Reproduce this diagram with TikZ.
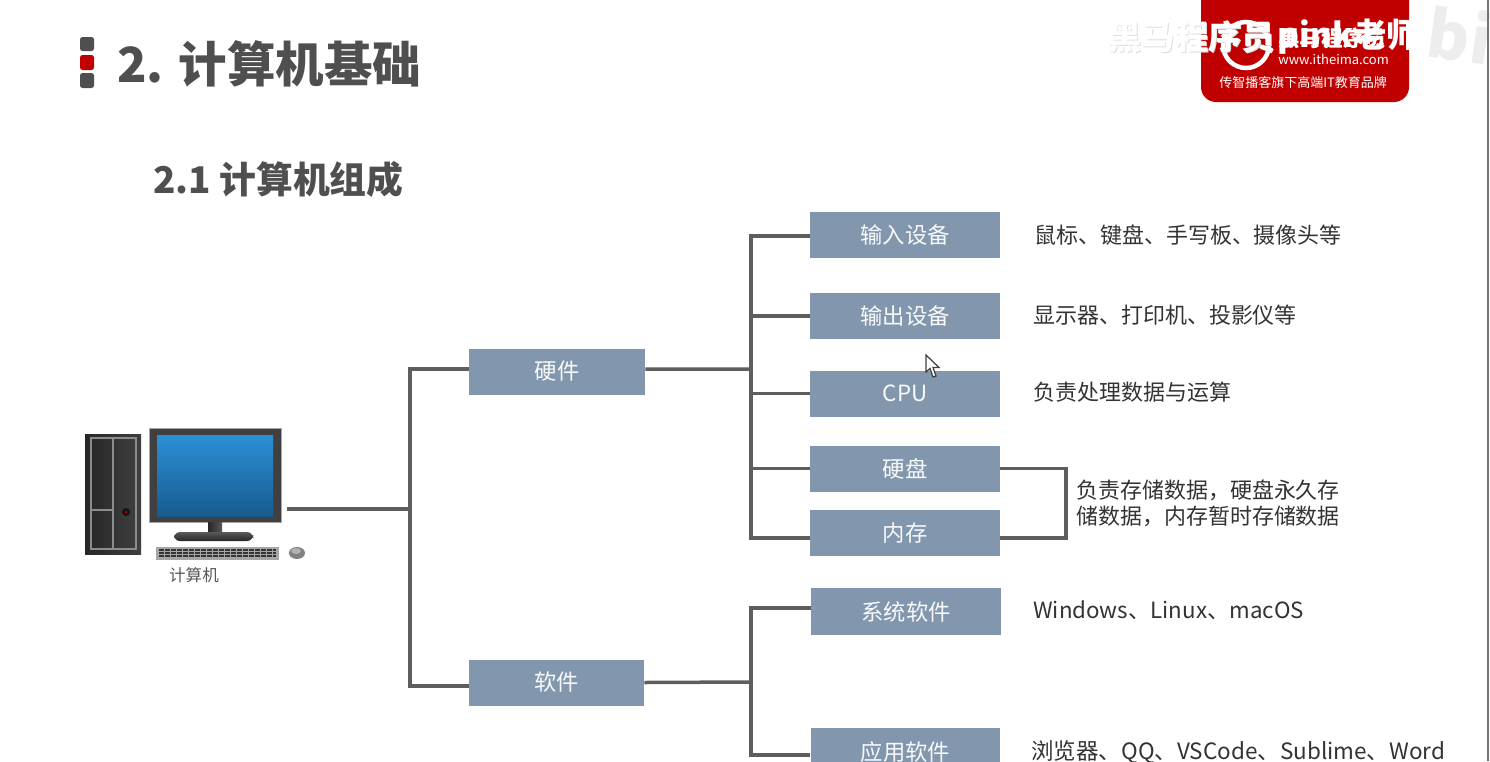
\documentclass[tikz,border=0pt]{standalone}
\usepackage{fontspec}
\setmainfont{Noto Sans CJK SC}
\usetikzlibrary{positioning}

\definecolor{boxblue}{HTML}{8297AE}
\definecolor{linegray}{HTML}{5C5F5B}
\definecolor{titlegray}{HTML}{4F4F4F}
\definecolor{logored}{HTML}{C00000}
\definecolor{screentop}{HTML}{2C90D6}
\definecolor{screenbot}{HTML}{175B8E}

\tikzset{
  boxnode/.style={fill=boxblue, text=white!94!boxblue, font=\fontsize{12.7}{15}\selectfont, minimum width=3.8cm, minimum height=.92cm, inner sep=0pt},
  halfbox/.style={boxnode, minimum width=3.52cm},
  note/.style={anchor=west, inner sep=0pt, text=black!80, font=\fontsize{12.5}{15}\selectfont},
  link/.style={draw=linegray, line width=.07cm},
  bullet/.style={fill=titlegray, rounded corners=.05cm},
  mark text/.style={inner sep=0pt, anchor=west, font=\fontsize{19}{22}\selectfont\bfseries}
}

\begin{document}
\begin{tikzpicture}[x=0.02cm, y=-0.02cm]
\useasboundingbox (0,0) rectangle (1490,761);
\clip (0,0) rectangle (1490,761);
\fill[white] (0,0) rectangle (1490,761);

% title
\fill[bullet] (80,37) rectangle (94,51);
\fill[bullet, fill=logored] (80,55) rectangle (94,70);
\fill[bullet] (80,73) rectangle (94,88);
\node (title) at (117,64) [anchor=west, inner sep=0pt, text=titlegray, font=\fontsize{27.6}{32}\selectfont\bfseries] {2. 计算机基础};
\node (subtitle) at (153,179) [anchor=west, inner sep=0pt, text=titlegray, font=\fontsize{20.95}{25}\selectfont\bfseries] {2.1 计算机组成};

% logo
\fill[logored, rounded corners=.3cm] (1201,-20) -- (1201,102) -- (1409,102) -- (1409,-20) -- cycle;
\draw[white, line width=.09cm] (1246,45) circle (23);
\node (brand) at (1278,38) [mark text, text=white, font=\fontsize{12.3}{15}\selectfont\bfseries] {黑马程序员};
\node (site) at (1278,59) [note, text=white, font=\fontsize{7.4}{9}\selectfont] {www.itheima.com};
\node (slogan) at (1219,83) [note, text=white, font=\fontsize{7.4}{9}\selectfont] {传智播客旗下高端IT教育品牌};

% watermark
\node (markb) at (1109,38) [mark text, text=black!13] {黑马程序员};
\node (mark) at (1108,37) [mark text, text=white] {黑马程序员};
\node (pink) at (1277,37) [mark text, text=white] {pink老师};
\node (bili) at (1428,30) [anchor=west, inner sep=0pt, text=black!7, rotate=-8, font=\fontsize{37}{40}\selectfont\bfseries] {bi};

% computer
\shade[left color=black!85, right color=black!75] (85,434) rectangle (141,554);  % tower
\draw[black!45, line width=.03cm] (91,438) rectangle (136,549);
\draw[black!45, line width=.03cm] (113,438) -- (113,549);
\draw[black!45, line width=.03cm] (91,510) -- (113,510);
\fill[black!92] (126,512) circle (4);
\fill[red!70!black] (126,512) circle (1.5);
\fill[black!75, draw=black!35, line width=.02cm] (149,428) rectangle (281,522);  % monitor
\shade[top color=screentop, bottom color=screenbot] (157,435) rectangle (273,516);
\shade[left color=black!85, right color=black!65] (208,522) rectangle (222,533);
\shade[top color=black!65, bottom color=black!85, rounded corners=.12cm] (174,532) rectangle (253,541);
\fill[black!35] (156,547) rectangle (279,560);  % keyboard
\foreach \i in {0,1,2}
  \draw[black!80, line width=.05cm, dash pattern=on .1cm off .02cm] (159,550+\i*3) -- (276,550+\i*3);
\fill[black!50] (297,553) ellipse (8 and 6);  % mouse
\fill[black!30] (296,551) ellipse (5 and 3);
\node (pclabel) at (194,575) [inner sep=0pt, text=black!65, font=\fontsize{9.4}{11}\selectfont] {计算机};

% boxes
\node (hw) at (557,371.5) [halfbox] {硬件\hspace{.16cm}};
\node (sw) at (556.5,682.5) [halfbox, minimum width=3.5cm] {软件};
\node (input) at (905,235) [boxnode] {输入设备};
\node (output) at (905,316) [boxnode] {输出设备};
\node (cpu) at (905,393.5) [boxnode] {CPU};
\node (disk) at (905,468.5) [boxnode] {硬盘};
\node (mem) at (905,533) [boxnode] {内存};
\node (sys) at (906,611.5) [boxnode, minimum height=.94cm] {系统软件};
\node (app) at (905.5,751.5) [boxnode, minimum height=.94cm] {应用软件};

% notes
\node (inputnote) at (1034,235) [note] {鼠标、键盘、手写板、摄像头等};
\node (outputnote) at (1033,315) [note] {显示器、打印机、投影仪等};
\node (cpunote) at (1033,392) [note] {负责处理数据与运算};
\node (memnote) at (1076,503) [note, align=left, font=\fontsize{12.5}{14.8}\selectfont] {负责存储数据，硬盘永久存\\储数据，内存暂时存储数据};
\node (sysnote) at (1033,610) [note, font=\fontsize{12.7}{15}\selectfont] {Windows、Linux、macOS};
\node (appnote) at (1031,752) [note, font=\fontsize{12.8}{15}\selectfont] {浏览器、QQ、VSCode、Sublime、Word};

% arrows
\coordinate (pcout) at (287,509);
\coordinate (bus1) at (410,509);
\coordinate (bus2) at (751,369);
\coordinate (bus3) at (751,682);
\coordinate (brk) at (1066,500);
\draw[link] (pcout) -- (bus1);
\draw[link] ([yshift=.05cm]hw.west) -| (bus1);
\draw[link] ([yshift=-.07cm]sw.west) -| (bus1);
\draw[link] ([yshift=.05cm]hw.east) -- (bus2);
\draw[link] ([yshift=-.02cm]input.west) -| (bus2);
\draw[link] (output.west) -| (bus2);
\draw[link] (cpu.west) -| (bus2);
\draw[link] (disk.west) -| (bus2);
\draw[link] ([yshift=-.1cm]mem.west) -| (bus2);
\draw[link] (sw.east) -- (bus3);
\draw[link] ([yshift=.07cm]sys.west) -| (bus3);
\draw[link] ([yshift=-.07cm]app.west) -| (bus3);
\draw[link] (disk.east) -| (brk) |- ([yshift=-.1cm]mem.east);

% cursor
\draw[fill=white, draw=black!75, line width=.025cm] (926,355) -- (926,372) -- (930,368.5) -- (933,377) -- (936,376) -- (933,367.5) -- (939,367.5) -- cycle;

% window edge
\draw[black!55, line width=.03cm] (1488,0) -- (1488,761);
\end{tikzpicture}
\end{document}
